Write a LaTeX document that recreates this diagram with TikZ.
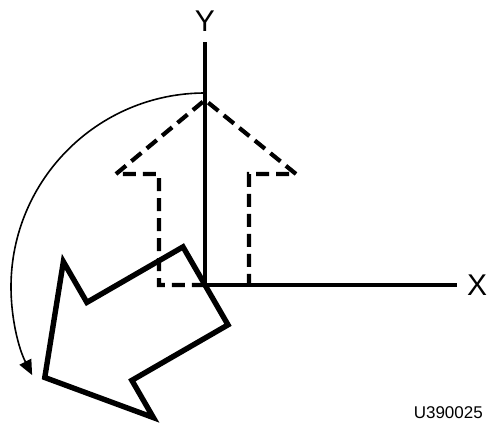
\documentclass[tikz,border=0pt]{standalone}
\usepackage{fontspec}
\setmainfont{Liberation Sans}
\usetikzlibrary{arrows.meta,positioning}

\begin{document}
\begin{tikzpicture}[
    x=1pt, y=1pt,
    axis/.style={line width=4pt},
    ghost/.style={line width=4.2pt, dash pattern=on 13pt off 7pt},
    turned/.style={line width=5.4pt, miter limit=20},
    swing/.style={line width=1.6pt, -{Triangle[length=15pt,width=13pt]}},
    axlabel/.style={inner sep=0pt, font=\fontsize{30}{30}\selectfont},
    codelabel/.style={inner sep=0pt, font=\fontsize{17}{17}\selectfont}
]
    \useasboundingbox (-205,-139) rectangle (282,285);

    \coordinate (o) at (0,0);
    \coordinate (xend) at (252,0);
    \coordinate (yend) at (0,243);
    \coordinate (swingfrom) at (0,192);

    % axes
    \draw[axis] (o) -- (xend);
    \draw[axis] (o) -- (yend);
    \node (xlabel) [axlabel, right=10pt of xend] {X};
    \node (ylabel) [axlabel, above=10pt of yend] {Y};

    % arrow before turning
    \draw[ghost] (0,0) -- (-46,0) -- (-46,111) -- (-89,111) -- (0,185) -- (91,111) -- (44,111) -- (44,0);

    % arrow after turning
    \begin{scope}[rotate=120]
        \draw[turned] (-46,0) -- (-46,111) -- (-89,111) -- (0,185) -- (91,111) -- (44,111) -- (44,0) -- cycle;
    \end{scope}

    % direction of turn
    \draw[swing] (swingfrom) arc[start angle=90, end angle=207, radius=194];

    \node (code) [codelabel, anchor=base east] at (278,-133) {U390025};
\end{tikzpicture}
\end{document}
